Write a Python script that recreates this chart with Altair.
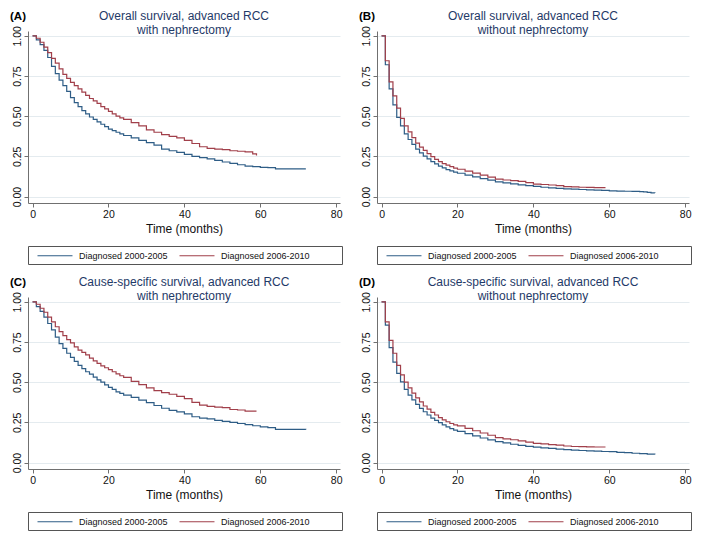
import altair as alt
import pandas as pd

# ---------------- data ----------------
GROUPS = ["Diagnosed 2000-2005", "Diagnosed 2006-2010"]
COLORS = ["#2e5d86", "#a13f4a"]
X_TICKS = [0, 20, 40, 60, 80]
Y_TICKS = [0.0, 0.25, 0.5, 0.75, 1.0]

TITLES = [
    ["Overall survival, advanced RCC", "with nephrectomy"],
    ["Overall survival, advanced RCC", "without nephrectomy"],
    ["Cause-specific survival, advanced RCC", "with nephrectomy"],
    ["Cause-specific survival, advanced RCC", "without nephrectomy"],
]
PANEL_LABELS = ["(A)", "(B)", "(C)", "(D)"]

# Panel A: overall survival, with nephrectomy
A_T1 = [0, 1, 2, 3, 4, 5, 6, 7, 8, 9, 10, 11, 12, 13, 14, 15, 16, 17, 18, 19, 20, 21, 22, 23, 24,
        26, 28, 30, 32, 34, 36, 38, 40, 42, 44, 46, 48, 50, 52, 54, 56, 58, 60, 62, 64, 72]
A_S1 = [1.0, 0.975, 0.945, 0.91, 0.865, 0.81, 0.765, 0.725, 0.69, 0.655, 0.615, 0.585, 0.56, 0.535,
        0.515, 0.495, 0.48, 0.465, 0.45, 0.435, 0.42, 0.41, 0.40, 0.39, 0.38,
        0.365, 0.35, 0.335, 0.32, 0.295, 0.285, 0.275, 0.262, 0.25, 0.242, 0.235, 0.225, 0.215,
        0.207, 0.198, 0.19, 0.186, 0.182, 0.18, 0.172, 0.172]
A_T2 = [0, 1, 2, 3, 4, 5, 6, 7, 8, 9, 10, 11, 12, 13, 14, 15, 16, 17, 18, 19, 20, 21, 22, 23, 24,
        26, 28, 30, 32, 34, 36, 38, 40, 42, 44, 46, 48, 50, 52, 54, 56, 58, 59]
A_S2 = [1.0, 0.985, 0.96, 0.93, 0.895, 0.86, 0.83, 0.795, 0.76, 0.735, 0.71, 0.69, 0.67, 0.65,
        0.63, 0.61, 0.595, 0.58, 0.56, 0.545, 0.53, 0.515, 0.5, 0.49, 0.48,
        0.46, 0.44, 0.415, 0.40, 0.385, 0.375, 0.365, 0.35, 0.33, 0.31, 0.30, 0.295, 0.292,
        0.285, 0.282, 0.278, 0.265, 0.255]

# Panel B: overall survival, without nephrectomy
B_T1 = [0, 1, 2, 3, 4, 5, 6, 7, 8, 9, 10, 11, 12, 13, 14, 15, 16, 17, 18, 19, 20,
        22, 24, 26, 28, 30, 32, 34, 36, 38, 40, 42, 44, 46, 48, 50, 52, 54, 56, 58, 60,
        62, 64, 66, 68, 69, 70, 71, 72]
B_S1 = [1.0, 0.82, 0.67, 0.57, 0.493, 0.44, 0.39, 0.355, 0.325, 0.295, 0.272, 0.252, 0.235,
        0.218, 0.203, 0.19, 0.178, 0.168, 0.16, 0.152, 0.145,
        0.133, 0.122, 0.112, 0.102, 0.092, 0.085, 0.079, 0.073, 0.068, 0.063, 0.058, 0.054,
        0.051, 0.048, 0.046, 0.044, 0.042, 0.04, 0.038, 0.036,
        0.034, 0.033, 0.032, 0.031, 0.029, 0.026, 0.023, 0.022]
B_T2 = [0, 1, 2, 3, 4, 5, 6, 7, 8, 9, 10, 11, 12, 13, 14, 15, 16, 17, 18, 19, 20,
        22, 24, 26, 28, 30, 32, 34, 36, 38, 40, 42, 44, 46, 48, 50, 52, 54, 56, 59]
B_S2 = [1.0, 0.845, 0.713, 0.626, 0.55, 0.487, 0.44, 0.403, 0.367, 0.333, 0.308, 0.287, 0.267,
        0.248, 0.232, 0.218, 0.205, 0.195, 0.186, 0.177, 0.17,
        0.158, 0.146, 0.134, 0.121, 0.108, 0.103, 0.099, 0.094, 0.087, 0.078, 0.075, 0.072,
        0.068, 0.062, 0.06, 0.058, 0.057, 0.056, 0.056]

# Panel C: cause-specific survival, with nephrectomy
C_T1 = [0, 1, 2, 3, 4, 5, 6, 7, 8, 9, 10, 11, 12, 13, 14, 15, 16, 17, 18, 19, 20, 21, 22, 23, 24,
        26, 28, 30, 32, 34, 36, 38, 40, 42, 44, 46, 48, 50, 52, 54, 56, 58, 60, 62, 64, 72]
C_S1 = [1.0, 0.97, 0.94, 0.905, 0.865, 0.825, 0.78, 0.74, 0.71, 0.68, 0.655, 0.63, 0.605, 0.585,
        0.565, 0.55, 0.532, 0.515, 0.5, 0.483, 0.468, 0.455, 0.44, 0.43, 0.42,
        0.405, 0.388, 0.373, 0.355, 0.338, 0.325, 0.315, 0.303, 0.285, 0.277, 0.272, 0.263,
        0.256, 0.25, 0.243, 0.236, 0.229, 0.222, 0.218, 0.207, 0.205]
C_T2 = [0, 1, 2, 3, 4, 5, 6, 7, 8, 9, 10, 11, 12, 13, 14, 15, 16, 17, 18, 19, 20, 21, 22, 23, 24,
        26, 28, 30, 32, 34, 36, 38, 40, 42, 44, 46, 48, 50, 52, 54, 56, 59]
C_S2 = [1.0, 0.985, 0.96, 0.935, 0.905, 0.875, 0.845, 0.815, 0.79, 0.765, 0.745, 0.72, 0.70,
        0.685, 0.67, 0.65, 0.633, 0.617, 0.602, 0.59, 0.578, 0.565, 0.552, 0.54, 0.53,
        0.505, 0.485, 0.465, 0.447, 0.435, 0.425, 0.412, 0.398, 0.375, 0.357, 0.35, 0.345,
        0.342, 0.33, 0.327, 0.32, 0.32]

# Panel D: cause-specific survival, without nephrectomy
D_T1 = [0, 1, 2, 3, 4, 5, 6, 7, 8, 9, 10, 11, 12, 13, 14, 15, 16, 17, 18, 19, 20,
        22, 24, 26, 28, 30, 32, 34, 36, 38, 40, 42, 44, 46, 48, 50, 52, 54, 56, 58, 60,
        62, 64, 66, 68, 70, 72]
D_S1 = [1.0, 0.855, 0.715, 0.625, 0.555, 0.502, 0.455, 0.42, 0.39, 0.362, 0.337, 0.316, 0.296,
        0.277, 0.262, 0.248, 0.235, 0.222, 0.211, 0.202, 0.194,
        0.18, 0.166, 0.153, 0.141, 0.13, 0.122, 0.114, 0.107, 0.101, 0.096, 0.092, 0.088,
        0.084, 0.08, 0.078, 0.075, 0.073, 0.071, 0.069, 0.068,
        0.064, 0.062, 0.058, 0.056, 0.052, 0.05]
D_T2 = [0, 1, 2, 3, 4, 5, 6, 7, 8, 9, 10, 11, 12, 13, 14, 15, 16, 17, 18, 19, 20,
        22, 24, 26, 28, 30, 32, 34, 36, 38, 40, 42, 44, 46, 48, 50, 52, 54, 56, 59]
D_S2 = [1.0, 0.875, 0.76, 0.68, 0.605, 0.545, 0.5, 0.465, 0.432, 0.402, 0.377, 0.352, 0.332,
        0.312, 0.296, 0.28, 0.266, 0.254, 0.243, 0.235, 0.228,
        0.213, 0.198, 0.184, 0.17, 0.155, 0.148, 0.142, 0.135, 0.127, 0.12, 0.116, 0.112,
        0.108, 0.103, 0.1, 0.099, 0.098, 0.097, 0.097]

# ---------------- styling ----------------
FONT = "Liberation Sans"
TITLE_COLOR = "#1f3a68"
AXIS_COLOR = "#707070"
GRID_COLOR = "#e4ebef"
W, H = 312, 172


def panel(label, title_lines, t1, s1, t2, s2):
    df = pd.DataFrame({
        "t": t1 + t2,
        "s": s1 + s2,
        "group": [GROUPS[0]] * len(t1) + [GROUPS[1]] * len(t2),
    })
    lines = alt.Chart(df).mark_line(interpolate="step-after", strokeWidth=1.2).encode(
        x=alt.X("t:Q",
                scale=alt.Scale(domain=[-1.2, 81], nice=False, zero=False),
                axis=alt.Axis(values=X_TICKS, title="Time (months)", grid=False,
                              labelFontSize=10.5, titleFontSize=12, titleFontWeight="normal",
                              titlePadding=4, labelPadding=2, tickSize=4)),
        y=alt.Y("s:Q",
                scale=alt.Scale(domain=[-0.04, 1.03], nice=False, zero=False),
                axis=alt.Axis(values=Y_TICKS, format=".2f", title=None, grid=True,
                              gridColor=GRID_COLOR, gridWidth=1,
                              labelAngle=270, labelAlign="center", labelBaseline="bottom",
                              labelFontSize=10.5, labelPadding=2, tickSize=4)),
        color=alt.Color("group:N",
                        scale=alt.Scale(domain=GROUPS, range=COLORS),
                        legend=alt.Legend(
                            title="\u00a0", titleOrient="right", titlePadding=29,
                            orient="none", legendX=0, legendY=H + 43,
                            direction="horizontal", symbolType="M0,0H6",
                            symbolSize=136, symbolStrokeWidth=1.2,
                            labelFontSize=9, labelFont=FONT, labelColor="#111",
                            strokeColor="#555", fillColor="white", padding=3,
                            columnPadding=5, cornerRadius=0, labelOffset=35)),
    )
    tag = alt.Chart(pd.DataFrame({"label": [label]})).mark_text(
        align="left", baseline="middle", fontWeight="bold", fontSize=11.5,
        font=FONT, color="#000"
    ).encode(text="label:N", x=alt.value(-18), y=alt.value(-14))

    return alt.layer(lines, tag).properties(
        width=W, height=H,
        title=alt.TitleParams(text=title_lines, fontSize=12, font=FONT,
                              fontWeight="normal", color=TITLE_COLOR,
                              anchor="middle", frame="group", offset=-26, lineHeight=14),
    )


pA = panel(PANEL_LABELS[0], TITLES[0], A_T1, A_S1, A_T2, A_S2)
pB = panel(PANEL_LABELS[1], TITLES[1], B_T1, B_S1, B_T2, B_S2)
pC = panel(PANEL_LABELS[2], TITLES[2], C_T1, C_S1, C_T2, C_S2)
pD = panel(PANEL_LABELS[3], TITLES[3], D_T1, D_S1, D_T2, D_S2)

row1 = alt.hconcat(pA, pB, spacing=16).resolve_scale(color="independent").resolve_legend(color="independent")
row2 = alt.hconcat(pC, pD, spacing=16).resolve_scale(color="independent").resolve_legend(color="independent")

chart = alt.vconcat(row1, row2, spacing=11).resolve_scale(
    color="independent"
).resolve_legend(color="independent").properties(
    padding={"left": 2, "top": 2, "right": 2, "bottom": 2},
    background="white",
).configure_view(stroke=None).configure_axis(
    labelFont=FONT, titleFont=FONT, domainColor=AXIS_COLOR, tickColor=AXIS_COLOR,
    labelColor="#111", titleColor="#111", domainWidth=1, tickWidth=1,
)

chart.save("out.html", embed_options={"renderer": "svg", "actions": False})
